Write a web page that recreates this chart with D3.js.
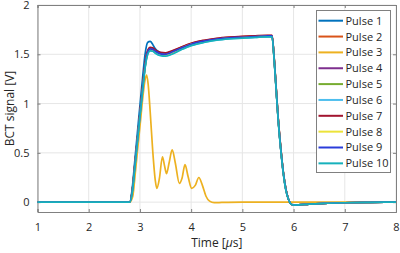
<!DOCTYPE html>
<html>
<head>
<meta charset="utf-8">
<script src="https://cdn.jsdelivr.net/npm/d3@7"></script>
<style>
  body { margin: 0; background: #fff; }
  svg { display: block; font-family: 'Open Sans', sans-serif; }
</style>
</head>
<body>
<div id="chart"></div>
<script>
'use strict';

// shared time base of the full pulses [us]
const timeMain = [1, 2, 2.8, 2.85, 2.9, 2.95, 3.0, 3.05, 3.1, 3.15, 3.2, 3.25, 3.3, 3.4, 3.5, 3.6, 3.8, 4.0, 4.25, 4.5,
                  4.75, 5.0, 5.25, 5.5, 5.58, 5.62, 5.66, 5.7, 5.75, 5.8, 5.85, 5.9, 5.95, 6.0, 6.1, 6.3, 6.6, 7.0, 7.5, 8];

const pulse1  = [0, 0, 0, 0.14, 0.42, 0.70, 0.98, 1.25, 1.50, 1.62, 1.63, 1.60, 1.555, 1.515, 1.505, 1.52, 1.565, 1.605, 1.635, 1.655,
                 1.665, 1.67, 1.675, 1.68, 1.68, 1.46, 1.15, 0.84, 0.54, 0.30, 0.13, 0.03, -0.02, -0.03, -0.028, -0.02, -0.012, -0.006, -0.002, 0];
const pulse2  = [0, 0, 0, 0.11, 0.37, 0.63, 0.89, 1.15, 1.39, 1.53, 1.565, 1.56, 1.54, 1.515, 1.51, 1.525, 1.57, 1.61, 1.64, 1.66,
                 1.672, 1.68, 1.685, 1.69, 1.69, 1.47, 1.16, 0.85, 0.55, 0.30, 0.13, 0.03, -0.02, -0.03, -0.028, -0.02, -0.012, -0.006, -0.002, 0];
const pulse4  = [0, 0, 0, 0.11, 0.36, 0.62, 0.88, 1.14, 1.38, 1.52, 1.56, 1.555, 1.535, 1.51, 1.505, 1.52, 1.565, 1.605, 1.635, 1.655,
                 1.668, 1.675, 1.682, 1.688, 1.688, 1.46, 1.15, 0.84, 0.54, 0.30, 0.13, 0.03, -0.02, -0.03, -0.028, -0.02, -0.012, -0.006, -0.002, 0];
const pulse5  = [0, 0, 0, 0.10, 0.36, 0.62, 0.88, 1.13, 1.37, 1.515, 1.555, 1.55, 1.53, 1.505, 1.50, 1.515, 1.56, 1.60, 1.632, 1.652,
                 1.665, 1.672, 1.68, 1.685, 1.685, 1.46, 1.15, 0.84, 0.54, 0.30, 0.13, 0.03, -0.02, -0.03, -0.028, -0.02, -0.012, -0.006, -0.002, 0];
const pulse6  = [0, 0, 0, 0.10, 0.35, 0.61, 0.87, 1.12, 1.36, 1.50, 1.54, 1.535, 1.515, 1.49, 1.485, 1.50, 1.548, 1.59, 1.622, 1.645,
                 1.658, 1.665, 1.672, 1.678, 1.678, 1.45, 1.14, 0.83, 0.53, 0.29, 0.12, 0.03, -0.02, -0.03, -0.028, -0.02, -0.012, -0.006, -0.002, 0];
const pulse7  = [0, 0, 0, 0.12, 0.38, 0.64, 0.90, 1.16, 1.40, 1.535, 1.57, 1.565, 1.545, 1.52, 1.515, 1.53, 1.572, 1.612, 1.642, 1.662,
                 1.674, 1.682, 1.688, 1.692, 1.692, 1.47, 1.16, 0.85, 0.55, 0.30, 0.13, 0.03, -0.02, -0.03, -0.028, -0.02, -0.012, -0.006, -0.002, 0];
const pulse8  = [0, 0, 0, 0.10, 0.36, 0.62, 0.88, 1.13, 1.37, 1.51, 1.55, 1.545, 1.525, 1.50, 1.495, 1.512, 1.558, 1.60, 1.63, 1.65,
                 1.663, 1.67, 1.678, 1.684, 1.684, 1.46, 1.15, 0.84, 0.54, 0.30, 0.13, 0.03, -0.02, -0.03, -0.028, -0.02, -0.012, -0.006, -0.002, 0];
const pulse9  = [0, 0, 0, 0.11, 0.37, 0.63, 0.89, 1.14, 1.38, 1.52, 1.555, 1.55, 1.53, 1.505, 1.50, 1.516, 1.562, 1.602, 1.633, 1.653,
                 1.666, 1.673, 1.68, 1.686, 1.686, 1.46, 1.15, 0.84, 0.54, 0.30, 0.13, 0.03, -0.02, -0.03, -0.028, -0.02, -0.012, -0.006, -0.002, 0];
const pulse10 = [0, 0, 0, 0.10, 0.35, 0.61, 0.87, 1.12, 1.36, 1.495, 1.535, 1.53, 1.51, 1.485, 1.48, 1.495, 1.545, 1.588, 1.62, 1.643,
                 1.656, 1.664, 1.671, 1.677, 1.677, 1.45, 1.14, 0.83, 0.53, 0.29, 0.12, 0.03, -0.02, -0.03, -0.028, -0.02, -0.012, -0.006, -0.002, 0];

// pulse 3 is cut short, it has its own time base
const time3  = [1, 2, 2.8, 2.86, 2.91, 2.96, 3.01, 3.06, 3.1, 3.13, 3.16, 3.2, 3.25, 3.3, 3.33, 3.38, 3.44, 3.48, 3.52, 3.57,
                3.63, 3.69, 3.77, 3.82, 3.88, 3.94, 4.01, 4.08, 4.15, 4.22, 4.29, 4.36, 4.45, 4.6, 5, 6, 7, 8];
const pulse3 = [0, 0, 0, 0.06, 0.30, 0.56, 0.82, 1.08, 1.24, 1.29, 1.2, 0.92, 0.52, 0.22, 0.14, 0.24, 0.46, 0.37, 0.29, 0.40,
                0.53, 0.40, 0.19, 0.24, 0.38, 0.26, 0.14, 0.17, 0.25, 0.17, 0.06, 0.01, -0.005, -0.003, 0, 0, 0, 0];

const names  = ['Pulse 1', 'Pulse 2', 'Pulse 3', 'Pulse 4', 'Pulse 5', 'Pulse 6', 'Pulse 7', 'Pulse 8', 'Pulse 9', 'Pulse 10'];
const colors = ['#0072BD', '#D95319', '#EDB120', '#7E2F8E', '#77AC30', '#4DBEEE', '#A2142F', '#ECE33A', '#2A3CDA', '#16B1BC'];

const xTicks = [1, 2, 3, 4, 5, 6, 7, 8];
const yTicks = [0, 0.5, 1, 1.5, 2];

const width = 400;
const height = 253;
const margin = { left: 37.5, right: 4, top: 5, bottom: 41 };

const series = [
    { name: names[0], t: timeMain, v: pulse1 },
    { name: names[1], t: timeMain, v: pulse2 },
    { name: names[2], t: time3, v: pulse3 },
    { name: names[3], t: timeMain, v: pulse4 },
    { name: names[4], t: timeMain, v: pulse5 },
    { name: names[5], t: timeMain, v: pulse6 },
    { name: names[6], t: timeMain, v: pulse7 },
    { name: names[7], t: timeMain, v: pulse8 },
    { name: names[8], t: timeMain, v: pulse9 },
    { name: names[9], t: timeMain, v: pulse10 }
];

const svg = d3.select('#chart')
    .append('svg')
    .attr('width', width)
    .attr('height', height);

const x = d3.scaleLinear()
    .domain([1, 8])
    .range([margin.left, width - margin.right]);

const y = d3.scaleLinear()
    .domain([-0.1, 2])
    .range([height - margin.bottom, margin.top]);

const x0 = x.range()[0], x1 = x.range()[1];
const y0 = y.range()[0], y1 = y.range()[1];

// grid
svg.append('g')
    .selectAll('line.vg')
    .data(xTicks)
    .enter()
    .append('line')
    .attr('x1', d => x(d)).attr('x2', d => x(d))
    .attr('y1', y1).attr('y2', y0)
    .attr('stroke', '#e6e6e6');

svg.append('g')
    .selectAll('line.hg')
    .data(yTicks)
    .enter()
    .append('line')
    .attr('x1', x0).attr('x2', x1)
    .attr('y1', d => y(d)).attr('y2', d => y(d))
    .attr('stroke', '#e6e6e6');

// axes, ticks pointing inward, box on all sides
const axisColor = '#808080';
svg.append('g')
    .attr('transform', `translate(0,${y0})`)
    .call(d3.axisBottom(x).tickValues(xTicks).tickSize(-3).tickPadding(11).tickFormat(d3.format('d')));
svg.append('g')
    .attr('transform', `translate(${x0},0)`)
    .call(d3.axisLeft(y).tickValues(yTicks).tickSize(-3).tickPadding(8).tickFormat(d => d));
svg.append('g')
    .attr('transform', `translate(0,${y1})`)
    .call(d3.axisTop(x).tickValues(xTicks).tickSize(-3).tickFormat(''));
svg.append('g')
    .attr('transform', `translate(${x1},0)`)
    .call(d3.axisRight(y).tickValues(yTicks).tickSize(-3).tickFormat(''));

svg.selectAll('.domain, .tick line').attr('stroke', axisColor);
svg.selectAll('.tick text')
    .attr('fill', '#262626')
    .style('font-size', '11px')
    .style('font-family', "'Open Sans', sans-serif");

// curves
const line = d3.line()
    .x(d => x(d[0]))
    .y(d => y(d[1]))
    .curve(d3.curveMonotoneX);

svg.append('g')
    .selectAll('path')
    .data(series)
    .enter()
    .append('path')
    .attr('d', s => line(s.t.map((t, i) => [t, s.v[i]])))
    .attr('fill', 'none')
    .attr('stroke', (s, i) => colors[i])
    .attr('stroke-width', 1.7)
    .attr('stroke-linejoin', 'round');

// axis labels
svg.append('text')
    .attr('x', (x0 + x1) / 2)
    .attr('y', 247)
    .attr('text-anchor', 'middle')
    .attr('fill', '#262626')
    .style('font-size', '12px')
    .call(t => {
        t.append('tspan').text('Time [');
        t.append('tspan').style('font-style', 'italic').text('μ');
        t.append('tspan').text('s]');
    });

svg.append('text')
    .attr('transform', `translate(14,${(y0 + y1) / 2}) rotate(-90)`)
    .attr('text-anchor', 'middle')
    .attr('fill', '#262626')
    .style('font-size', '12px')
    .text('BCT signal [V]');

// legend
const legend = svg.append('g');
const lgX = 316, lgY = 10, rowH = 15.85;

legend.append('rect')
    .attr('x', lgX + 0.5).attr('y', lgY + 0.5)
    .attr('width', 74).attr('height', 162)
    .attr('fill', '#fff')
    .attr('stroke', axisColor);

const rows = legend.selectAll('g.row')
    .data(names)
    .enter()
    .append('g')
    .attr('transform', (d, i) => `translate(${lgX},${lgY + 10.7 + i * rowH})`);

rows.append('line')
    .attr('x1', 2.5).attr('x2', 27)
    .attr('stroke', (d, i) => colors[i])
    .attr('stroke-width', 2);

rows.append('text')
    .attr('x', 29.5)
    .attr('dy', '0.36em')
    .attr('fill', '#262626')
    .style('font-size', '11px')
    .text(d => d);
</script>
</body>
</html>
